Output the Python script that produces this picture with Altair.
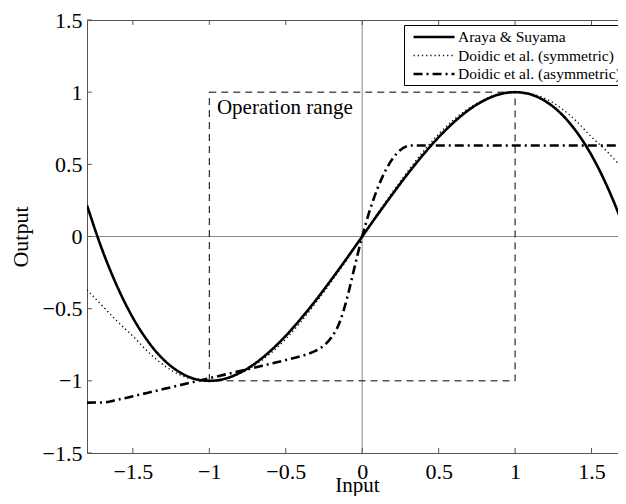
import altair as alt
import pandas as pd

# ---- data ----
series_names = ["Araya & Suyama", "Doidic et al. (symmetric)", "Doidic et al. (asymmetric)"]

x_grid = [-1.8, -1.7, -1.6, -1.5, -1.4, -1.3, -1.2, -1.1, -1.0, -0.9, -0.8, -0.7, -0.6,
          -0.5, -0.4, -0.3, -0.2, -0.1, 0.0, 0.1, 0.2, 0.3, 0.4, 0.5, 0.6, 0.7, 0.8,
          0.9, 1.0, 1.1, 1.2, 1.3, 1.4, 1.5, 1.6, 1.7, 1.732]
araya = [0.216, -0.094, -0.352, -0.563, -0.728, -0.852, -0.936, -0.985, -1.0, -0.986,
         -0.944, -0.879, -0.792, -0.688, -0.568, -0.437, -0.296, -0.150, 0.0, 0.150,
         0.296, 0.437, 0.568, 0.688, 0.792, 0.879, 0.944, 0.986, 1.0, 0.985, 0.936,
         0.852, 0.728, 0.563, 0.352, 0.094, 0.0]
doidic_sym = [-0.37, -0.48, -0.59, -0.69, -0.80, -0.89, -0.955, -0.99, -1.0, -0.99,
              -0.95, -0.89, -0.81, -0.71, -0.59, -0.455, -0.31, -0.16, 0.0, 0.16,
              0.31, 0.455, 0.59, 0.71, 0.81, 0.89, 0.95, 0.99, 1.0, 0.99, 0.955,
              0.89, 0.80, 0.69, 0.59, 0.48, 0.45]

x_asym = [-1.8, -1.7, -1.6, -1.5, -1.4, -1.3, -1.2, -1.1, -1.0, -0.9, -0.8, -0.7, -0.6,
          -0.5, -0.4, -0.35, -0.3, -0.25, -0.2, -0.15, -0.1, -0.09, -0.05, 0.0, 0.05,
          0.1, 0.15, 0.2, 0.25, 0.3, 0.32, 1.732]
doidic_asym = [-1.151, -1.150, -1.131, -1.107, -1.082, -1.057, -1.032, -1.007, -0.982,
               -0.957, -0.932, -0.907, -0.882, -0.856, -0.829, -0.812, -0.789, -0.755,
               -0.698, -0.601, -0.431, -0.39, -0.212, 0.0, 0.182, 0.332, 0.452, 0.541,
               0.600, 0.628, 0.630, 0.630]

x_ticks = [-1.5, -1, -0.5, 0, 0.5, 1, 1.5]
y_ticks = [-1.5, -1, -0.5, 0, 0.5, 1, 1.5]

range_x = [-1, 1]
range_y = [-1, 1]
label_x = [-0.95]
label_y = [0.85]
label_text = ["Operation range"]

FONT = "Liberation Serif"
W, H = 540, 433

rows = []
for i, (x, y) in enumerate(zip(x_grid, araya)):
    rows.append({"x": x, "y": y, "series": series_names[0], "order": i})
for i, (x, y) in enumerate(zip(x_grid, doidic_sym)):
    rows.append({"x": x, "y": y, "series": series_names[1], "order": i})
for i, (x, y) in enumerate(zip(x_asym, doidic_asym)):
    rows.append({"x": x, "y": y, "series": series_names[2], "order": i})
df = pd.DataFrame(rows)

xs = alt.Scale(domain=[-1.8, 1.732], nice=False, zero=False)
ys = alt.Scale(domain=[-1.5, 1.5], nice=False, zero=False)

legend = alt.Legend(
    title=None, orient="none", legendX=317, legendY=5,
    strokeColor="black", fillColor="white", padding=2, cornerRadius=0,
    labelFont=FONT, labelFontSize=15.5, labelColor="black", labelLimit=400,
    symbolType="M-0.29,0H4.53", symbolSize=289, labelOffset=32, rowPadding=0,
)

lines = alt.Chart(df).mark_line(color="black", clip=True, interpolate="monotone").encode(
    x=alt.X("x:Q", scale=xs, axis=alt.Axis(values=x_ticks, title="Input", format="~g")),
    y=alt.Y("y:Q", scale=ys, axis=alt.Axis(values=y_ticks, title="Output", format="~g")),
    strokeDash=alt.StrokeDash("series:N", sort=series_names,
                              scale=alt.Scale(domain=series_names, range=[[1, 0], [1.2, 3], [9, 4, 2, 4]]),
                              legend=legend),
    strokeWidth=alt.StrokeWidth("series:N", sort=series_names,
                                scale=alt.Scale(type="ordinal", domain=series_names, range=[2.6, 1.4, 2.6]),
                                legend=legend),
    order="order:Q",
)

zero_v = alt.Chart(pd.DataFrame({"x": [0]})).mark_rule(color="#8a8a8a", strokeWidth=1).encode(
    x=alt.X("x:Q", scale=xs))
zero_h = alt.Chart(pd.DataFrame({"y": [0]})).mark_rule(color="#8a8a8a", strokeWidth=1).encode(
    y=alt.Y("y:Q", scale=ys))

box = alt.Chart(pd.DataFrame({"x": [range_x[0]], "x2": [range_x[1]],
                              "y": [range_y[0]], "y2": [range_y[1]]})).mark_rect(
    fill="transparent", stroke="black", strokeWidth=1, strokeDash=[7, 5]).encode(
    x=alt.X("x:Q", scale=xs), x2="x2:Q", y=alt.Y("y:Q", scale=ys), y2="y2:Q")

txt = alt.Chart(pd.DataFrame({"x": label_x, "y": label_y, "t": label_text})).mark_text(
    align="left", baseline="alphabetic", font=FONT, fontSize=21, color="black").encode(
    x=alt.X("x:Q", scale=xs), y=alt.Y("y:Q", scale=ys), text="t:N")

xt = pd.DataFrame({"x": x_ticks})
yt = pd.DataFrame({"y": y_ticks})
tick_b = alt.Chart(xt).mark_rule(color="#555", strokeWidth=1).encode(
    x=alt.X("x:Q", scale=xs), y=alt.value(H), y2=alt.value(H - 5))
tick_t = alt.Chart(xt).mark_rule(color="#555", strokeWidth=1).encode(
    x=alt.X("x:Q", scale=xs), y=alt.value(0), y2=alt.value(5))
tick_l = alt.Chart(yt).mark_rule(color="#555", strokeWidth=1).encode(
    y=alt.Y("y:Q", scale=ys), x=alt.value(0), x2=alt.value(5))

chart = alt.layer(zero_v, zero_h, tick_b, tick_t, tick_l, box, txt, lines).properties(
    width=W, height=H,
    padding={"left": 79, "top": 12, "right": -9, "bottom": 43},
    autosize=alt.AutoSizeParams(type="none"),
).configure_view(stroke="#555", strokeWidth=1).configure_axis(
    grid=False, domain=False, ticks=False,
    labelFont=FONT, labelFontSize=22, labelColor="black",
    titleFont=FONT, titleFontSize=21, titleFontWeight="normal", titleColor="black",
).configure_axisX(labelPadding=8, titleY=38, titleBaseline="alphabetic").configure_axisY(
    labelPadding=5, titleX=-60, titleBaseline="alphabetic", titleFontSize=22)

chart.save("out.html", embed_options={"renderer": "svg", "actions": False})
